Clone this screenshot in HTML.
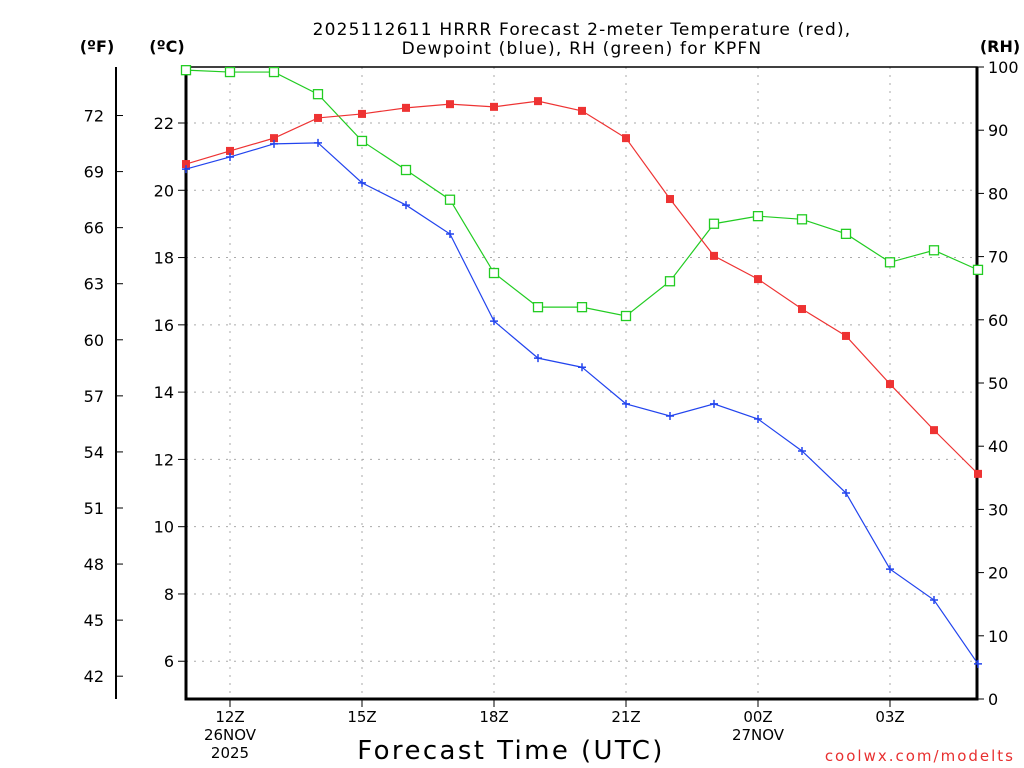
<!DOCTYPE html>
<html><head><meta charset="utf-8"><style>
html,body{margin:0;padding:0;background:#fff;}
svg{display:block;font-family:"DejaVu Sans","Liberation Sans",sans-serif;}
</style></head><body>
<svg id="chart" width="1024" height="768" viewBox="0 0 1024 768" xmlns="http://www.w3.org/2000/svg">
<text x="582" y="35" font-size="17" letter-spacing="1.2" text-anchor="middle">2025112611 HRRR Forecast 2-meter Temperature (red),</text>
<text x="582" y="54" font-size="17" letter-spacing="1.2" text-anchor="middle">Dewpoint (blue), RH (green) for KPFN</text>
<text x="97" y="52" font-size="16" font-weight="bold" text-anchor="middle">(ºF)</text>
<text x="167" y="52" font-size="16" font-weight="bold" text-anchor="middle">(ºC)</text>
<text x="1000" y="52" font-size="16" font-weight="bold" text-anchor="middle">(RH)</text>
<text x="511" y="759" font-size="26" letter-spacing="2.4" text-anchor="middle">Forecast Time (UTC)</text>
<text x="1015" y="761" font-size="15" letter-spacing="2" fill="#e83030" text-anchor="end">coolwx.com/modelts</text>
<g id="grid"></g><g id="axes"></g><g id="series"></g>
</svg>
<script>
const hours = [11,12,13,14,15,16,17,18,19,20,21,22,23,24,25,26,27,28,29];
const tempC = [20.78,21.17,21.55,22.15,22.27,22.45,22.56,22.48,22.65,22.36,21.55,19.74,18.05,17.36,16.47,15.67,14.24,12.87,11.57];
const dewC = [20.63,20.99,21.38,21.41,20.22,19.56,18.70,16.11,15.01,14.74,13.65,13.29,13.65,13.20,12.25,11.00,8.74,7.82,5.92];
const rhPct = [99.5,99.2,99.2,95.7,88.3,83.7,79.0,67.4,62.0,62.0,60.6,66.1,75.2,76.4,75.9,73.6,69.1,71.0,67.9];
const xTickHours = [12,15,18,21,24,27];
const xTickLabels = [["12Z","26NOV","2025"],["15Z"],["18Z"],["21Z"],["00Z","27NOV"],["03Z"]];
const cTicks = [6,8,10,12,14,16,18,20,22];
const fTicks = [42,45,48,51,54,57,60,63,66,69,72];
const rhTicks = [0,10,20,30,40,50,60,70,80,90,100];

const L=186,R=977,T=67,B=699;
const xS=h=>L+(h-11)*44;
const cS=c=>123+(22-c)*33.64;
const fS=f=>cS((f-32)*5/9);
const rS=r=>B-r*(B-T)/100;
const NS="http://www.w3.org/2000/svg";
function mk(parent,tag,attrs,text){const e=document.createElementNS(NS,tag);for(const k in attrs)e.setAttribute(k,attrs[k]);if(text!==undefined)e.textContent=text;parent.appendChild(e);return e;}
const grid=document.getElementById('grid'),axes=document.getElementById('axes'),ser=document.getElementById('series');

xTickHours.forEach((h,i)=>{
  const x=xS(h);
  const g=mk(grid,'line',{x1:x,x2:x,y1:T,y2:B,stroke:'#aaa','stroke-dasharray':'2,6'});
  
  
  const t=mk(axes,'line',{x1:x,x2:x,y1:B,y2:B+8,stroke:'#000'});
  
  
  xTickLabels[i].forEach((s,j)=>{
    const lb=mk(axes,'text',{x:x,y:722+j*18,'font-size':15,'text-anchor':'middle'},s);
    
    
  });
});
cTicks.forEach(c=>{
  const y=cS(c);
  const g=mk(grid,'line',{x1:L,x2:R,y1:y,y2:y,stroke:'#aaa','stroke-dasharray':'2,6'});
  
  
  const t=mk(axes,'line',{x1:L-8,x2:L,y1:y,y2:y,stroke:'#000'});
  
  
  const lb=mk(axes,'text',{x:174,y:y+6,'font-size':16,'text-anchor':'end'},c);
  
  
});
fTicks.forEach(f=>{
  const y=fS(f);
  const t=mk(axes,'line',{x1:116,x2:123,y1:y,y2:y,stroke:'#000'});
  
  
  const lb=mk(axes,'text',{x:104,y:y+6,'font-size':16,'text-anchor':'end'},f);
  
  
});
rhTicks.forEach(r=>{
  const y=rS(r);
  const t=mk(axes,'line',{x1:R,x2:R+7,y1:y,y2:y,stroke:'#000'});
  
  
  const lb=mk(axes,'text',{x:988,y:y+6,'font-size':16},r);
  
  
});
const fAx=mk(axes,'line',{x1:116,x2:116,y1:T,y2:B,stroke:'#000','stroke-width':2});


const box=mk(axes,'path',{d:`M${L},${T}H${R}V${B}H${L}Z`,fill:'none',stroke:'#000','stroke-width':1.5});


const ax2=mk(axes,'path',{d:`M${L},${T}V${B}H${R}V${T}`,fill:'none',stroke:'#000','stroke-width':3});



function series(vals,ys,color,name,marker){
  const pts=vals.map((v,i)=>[xS(hours[i]),ys(v)]);
  const pl=mk(ser,'polyline',{points:pts.map(p=>p.join(',')).join(' '),fill:'none',stroke:color,'stroke-width':1.2});
  
  
  pts.forEach(([x,y])=>{
    let m;
    if(marker==='fill') m=mk(ser,'rect',{x:x-4,y:y-4,width:8,height:8,fill:color});
    else if(marker==='open') m=mk(ser,'rect',{x:x-4.5,y:y-4.5,width:9,height:9,fill:'#fff',stroke:color,'stroke-width':1.3});
    else m=mk(ser,'path',{d:`M${x-4},${y}H${x+4}M${x},${y-4}V${y+4}`,stroke:color,'stroke-width':1.5});
    
    
  });
}
series(rhPct,rS,'#22cc22','rh','open');
series(tempC,cS,'#ee3333','temperature','fill');
series(dewC,cS,'#2244ee','dewpoint','plus');
</script>
</body></html>
